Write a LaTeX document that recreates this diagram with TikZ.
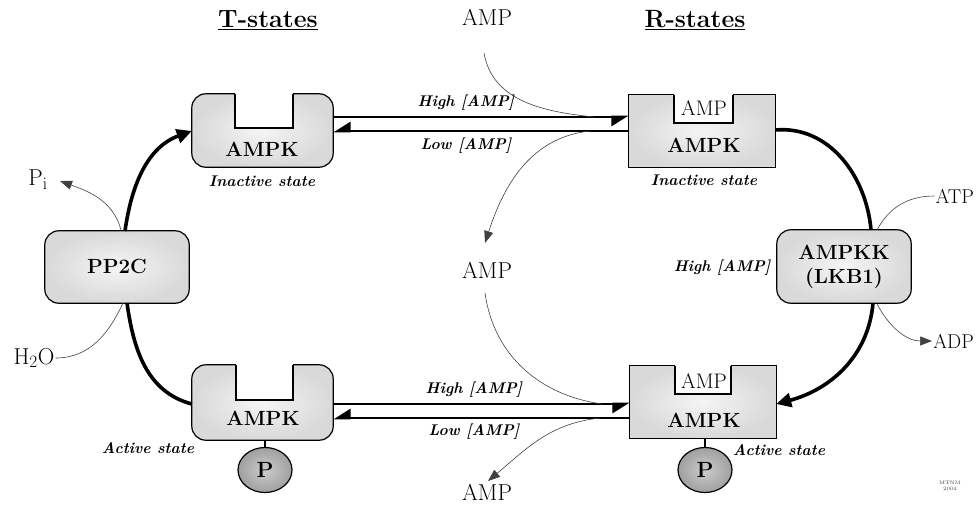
\documentclass[tikz,border=0pt]{standalone}
\usetikzlibrary{arrows.meta,calc,shapes.geometric}
\begin{document}
\begin{tikzpicture}[x=1pt,y=-1pt,
  reg/.style={font=\fontsize{23}{25}\selectfont, inner sep=1pt},
  small/.style={font=\fontsize{21}{23}\selectfont, inner sep=1pt},
  bold/.style={font=\bfseries\fontsize{20.5}{22}\selectfont, inner sep=1pt, align=center},
  title/.style={font=\bfseries\fontsize{25}{27}\selectfont, inner sep=1pt},
  state/.style={font=\bfseries\itshape\fontsize{15.5}{17}\selectfont, inner sep=1pt},
  frame/.style={minimum width=#1, minimum height=73pt, inner sep=0pt},
  boxfill/.style={draw=black, line width=1.2pt, inner color=gray!8, outer color=gray!30},
  pball/.style={draw=black, line width=1.2pt, ellipse, inner color=gray!40, outer color=gray!75, minimum width=54pt, minimum height=45pt, inner sep=0pt, font=\bfseries\fontsize{22}{24}\selectfont},
  cyc/.style={line width=3.6pt},
  eqline/.style={line width=2.8pt},
  fine/.style={draw=gray!50!black, line width=0.6pt},
  cyctip/.style={-{Triangle[length=15pt,width=14pt]}},
  finetip/.style={-{Triangle[length=12pt,width=9pt]}},
  harp/.style={-{Triangle[harpoon,swap,length=15pt,width=18pt]}},
]
\useasboundingbox (0,0) rectangle (976,504);

% titles
\node[title] (tt) at (268,20) {\underline{T-states}};
\node[title] (rt) at (695,20) {\underline{R-states}};

% frames (named)
\node[frame=141pt] (ti) at (262.5,130.5) {};
\node[frame=146pt] (ri) at (702,131) {};
\node[frame=141pt, minimum height=75pt] (ta) at (262.5,402.5) {};
\node[frame=146pt, minimum height=72pt] (ra) at (703,402) {};
\node[frame=144pt, minimum height=72pt] (pp) at (117,267) {};
\node[frame=134pt] (kk) at (844,266.5) {};

% box shapes
\path[boxfill, rounded corners=14pt] (ti.south west) rectangle (ti.north east);
\fill[white] (235,92) rectangle (293,128);
\draw[line width=1.2pt] (235,94) -- (235,128) -- (293,128) -- (293,94);

\path[boxfill] (ri.south west) rectangle (ri.north east);
\fill[white] (674,92) rectangle (733,123);
\draw[line width=1.2pt] (674,94.5) -- (674,123) -- (733,123) -- (733,94.5);

\path[boxfill, rounded corners=14pt] (ta.south west) rectangle (ta.north east);
\fill[white] (236,363) rectangle (293,400);
\draw[line width=1.2pt] (236,365) -- (236,400) -- (293,400) -- (293,365);

\path[boxfill] (ra.south west) rectangle (ra.north east);
\fill[white] (675,364) rectangle (731,394);
\draw[line width=1.2pt] (675,366) -- (675,394) -- (731,394) -- (731,366);

\path[boxfill, rounded corners=14pt] (pp.south west) rectangle (pp.north east);
\path[boxfill, rounded corners=14pt] (kk.south west) rectangle (kk.north east);

% box texts
\node[bold] (tiT) at (262,149) {AMPK};
\node[small] (riA) at (704,108) {AMP};
\node[bold] (riT) at (704,145) {AMPK};
\node[bold] (taT) at (263,418) {AMPK};
\node[small] (raA) at (704,381) {AMP};
\node[bold] (raT) at (704,420) {AMPK};
\node[bold] (ppT) at (117,266) {PP2C};
\node[bold, font=\bfseries\fontsize{20.5}{24}\selectfont] (kkT) at (844,267) {AMPKK\\(LKB1)};

\node[state] (s1) at (262,181) {Inactive state};
\node[state] (s2) at (704,180) {Inactive state};
\node[state] (s3) at (148,448) {Active state};
\node[state] (s4) at (779,450) {Active state};

% phosphate balls
\node[pball] (p1) at (265,470) {P};
\node[pball] (p2) at (705,470) {P};
\draw[line width=1.2pt] (ta.south -| p1) -- (p1.north);
\draw[line width=1.2pt] (ra.south -| p2) -- (p2.north);

% equilibrium harpoons
\coordinate (ya) at (0,117);
\coordinate (yb) at (0,131);
\coordinate (yc) at (0,404);
\coordinate (yd) at (0,418);
\draw[eqline, harp] (ti.east |- ya) -- (ri.west |- ya);
\draw[eqline, harp] (ri.west |- yb) -- (ti.east |- yb);
\draw[eqline, harp] (ta.east |- yc) -- (ra.west |- yc);
\draw[eqline, harp] (ra.west |- yd) -- (ta.east |- yd);

\node[state] (h1) at (466,103) {High [AMP]};
\node[state] (l1) at (466,146) {Low [AMP]};
\node[state] (h2) at (474,390) {High [AMP]};
\node[state] (l2) at (474,432) {Low [AMP]};
\node[state] (h3) at (722,268) {High [AMP]};

% AMP texts and curves
\node[reg] (am1) at (487,17) {AMP};
\node[reg] (am2) at (487,270) {AMP};
\node[reg] (am3) at (487,492) {AMP};
\coordinate (j1) at (594,117);
\coordinate (j2) at (590,131);
\coordinate (j3) at (602,404);
\coordinate (j4) at (600,418);
\draw[fine] (484,53) to[out=-80,in=174] (j1);
\draw[fine, finetip] (j2) to[out=186,in=72] (485,243);
\draw[fine] (485,293) to[out=-82,in=172] (j3);
\draw[fine, finetip] (j4) to[out=186,in=40] (488,481);

% cycle arcs
\coordinate (ppt) at (125,231);
\coordinate (ppb) at (127,303);
\coordinate (kkt) at (871,230);
\coordinate (kkb) at (873,303);
\coordinate (y1) at (0,131);
\coordinate (y2) at (0,404);
\coordinate (y3) at (0,130);
\draw[cyc, cyctip] (ppt) to[out=82,in=200] (ti.west |- y1);
\draw[cyc] (ppb) to[out=-82,in=165] (ta.west |- y2);
\draw[cyc] (ri.east |- y3) to[out=5,in=95] (kkt);
\draw[cyc, cyctip] (kkb) to[out=-95,in=15] (ra.east |- y2);

% side reactants
\node[reg] (pi) at (38,180) {P$_{\mathrm{i}}$};
\node[reg] (h2o) at (34,358) {H$_2$O};
\node[small, anchor=east, font=\fontsize{20}{22}\selectfont] (atp) at (975,196) {ATP};
\node[small, anchor=east, font=\fontsize{20}{22}\selectfont] (adp) at (975,341) {ADP};
\draw[fine, finetip] (121,230) to[out=105,in=-20] (60,181);
\draw[fine] (atp.west) to[out=180,in=62] (877,230);
\draw[fine] (h2o.east) to[out=0,in=245] (123,303);
\draw[fine, finetip] (877,304) to[out=-62,in=180] (adp.west);

% signature
\node[font=\fontsize{5}{5.5}\selectfont, inner sep=0pt, align=center, gray!50!black] (sig) at (950,486) {MTNM\\2004};
\end{tikzpicture}
\end{document}
